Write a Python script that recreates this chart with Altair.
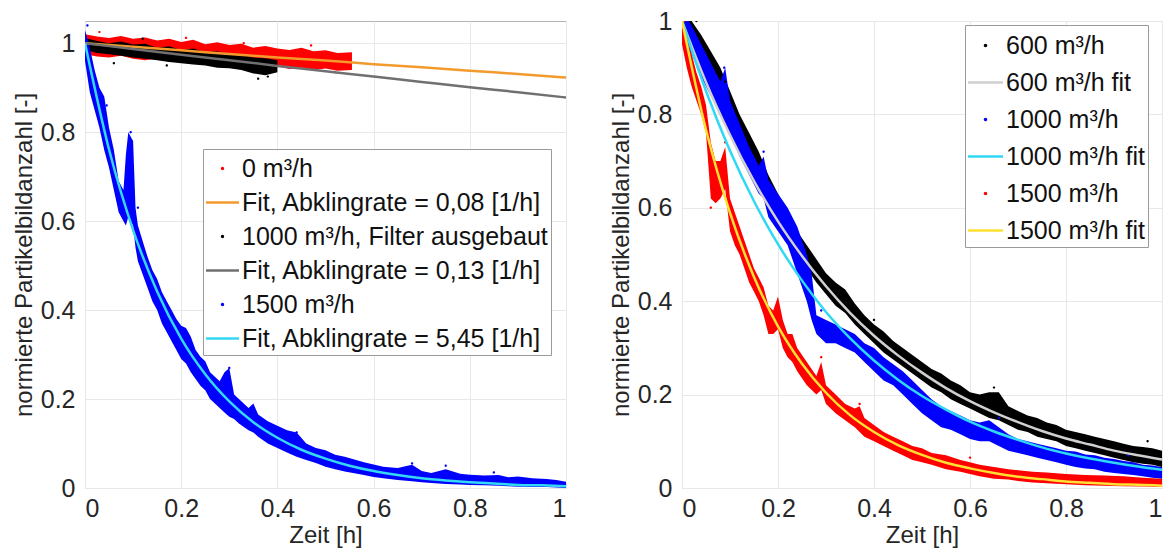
import altair as alt
import pandas as pd

FONT = "Liberation Sans"
TXT = "#262626"

# ---------------- Left panel: measured bands (lo/hi of the scatter cloud) ----------------
L_red_x = [0, 0.025, 0.05, 0.075, 0.1, 0.125, 0.15, 0.175, 0.2, 0.225, 0.25, 0.275, 0.3, 0.325,
           0.35, 0.375, 0.4, 0.425, 0.45, 0.475, 0.5, 0.525, 0.555]
L_red_hi = [1.02, 1.015, 1.012, 1.016, 1.01, 1.013, 1.006, 1.01, 1.003, 1.008, 0.998, 1.002, 0.996,
            0.999, 0.99, 0.994, 0.988, 0.985, 0.99, 0.982, 0.984, 0.978, 0.98]
L_red_lo = [0.975, 0.97, 0.968, 0.972, 0.965, 0.962, 0.966, 0.958, 0.962, 0.955, 0.958, 0.952, 0.955,
            0.948, 0.952, 0.945, 0.948, 0.942, 0.945, 0.94, 0.943, 0.938, 0.94]

L_blk_x = [0, 0.025, 0.05, 0.075, 0.1, 0.125, 0.15, 0.175, 0.2, 0.225, 0.25, 0.275, 0.3, 0.325,
           0.35, 0.375, 0.4]
L_blk_hi = [1.012, 1.005, 1.0, 1.004, 0.997, 0.999, 0.99, 0.993, 0.985, 0.988, 0.98, 0.982, 0.975,
            0.976, 0.968, 0.966, 0.962]
L_blk_lo = [0.985, 0.978, 0.975, 0.972, 0.968, 0.965, 0.962, 0.958, 0.955, 0.952, 0.95, 0.945, 0.944,
            0.94, 0.932, 0.928, 0.935]

L_blu_x = [0, 0.01, 0.02, 0.03, 0.04, 0.05, 0.06, 0.07, 0.08, 0.085, 0.09, 0.1, 0.105, 0.11, 0.12,
           0.13, 0.14, 0.15, 0.16, 0.17, 0.18, 0.19, 0.2, 0.21, 0.22, 0.23, 0.24, 0.25, 0.26, 0.27,
           0.28, 0.29, 0.3, 0.31, 0.32, 0.34, 0.35, 0.36, 0.38, 0.4, 0.42, 0.44, 0.46, 0.48, 0.5,
           0.52, 0.54, 0.56, 0.58, 0.6, 0.62, 0.65, 0.68, 0.7, 0.72, 0.75, 0.78, 0.8, 0.83, 0.86,
           0.88, 0.9, 0.93, 0.96, 0.98, 1.0]
L_blu_lo = [0.96, 0.89, 0.85, 0.81, 0.76, 0.72, 0.67, 0.62, 0.6, 0.59, 0.61, 0.59, 0.54, 0.51, 0.48,
            0.45, 0.42, 0.40, 0.37, 0.35, 0.33, 0.31, 0.29, 0.28, 0.26, 0.245, 0.23, 0.22, 0.2, 0.19,
            0.18, 0.17, 0.16, 0.155, 0.145, 0.13, 0.125, 0.115, 0.1, 0.09, 0.08, 0.07, 0.063,
            0.056, 0.048, 0.042, 0.037, 0.033, 0.029, 0.025, 0.022, 0.018, 0.015, 0.013, 0.011, 0.009,
            0.008, 0.007, 0.006, 0.005, 0.004, 0.003, 0.002, 0.002, 0.001, 0.0]
L_blu_hi = [1.03, 0.99, 0.94, 0.9, 0.88, 0.81, 0.76, 0.69, 0.67, 0.75, 0.8, 0.78, 0.63, 0.59, 0.555,
            0.52, 0.49, 0.47, 0.44, 0.42, 0.4, 0.38, 0.365, 0.36, 0.34, 0.31, 0.295, 0.285, 0.26,
            0.25, 0.24, 0.26, 0.27, 0.21, 0.2, 0.18, 0.19, 0.165, 0.15, 0.14, 0.13, 0.125, 0.1,
            0.09, 0.085, 0.075, 0.07, 0.064, 0.058, 0.053, 0.048, 0.045, 0.052, 0.038, 0.034, 0.042,
            0.032, 0.03, 0.028, 0.029, 0.024, 0.026, 0.022, 0.02, 0.018, 0.014]

# isolated dots
L_dot_series = ["0 m³/h"] * 5 + ["1000 m³/h, Filter ausgebaut"] * 5 + ["1500 m³/h"] * 9
L_dot_x = [0.03, 0.21, 0.33, 0.47, 0.52, 0.06, 0.17, 0.36, 0.38, 0.12,
           0.005, 0.095, 0.11, 0.045, 0.3, 0.44, 0.68, 0.75, 0.85]
L_dot_y = [1.025, 1.012, 1.0, 0.995, 0.935, 0.955, 0.95, 0.92, 0.925, 1.01,
           1.04, 0.8, 0.63, 0.86, 0.27, 0.125, 0.055, 0.05, 0.035]

# fits
L_fit_x10 = [0, 0.1, 0.2, 0.3, 0.4, 0.5, 0.6, 0.7, 0.8, 0.9, 1.0]
L_orange = [1.0, 0.992, 0.984, 0.976, 0.968, 0.961, 0.953, 0.946, 0.938, 0.931, 0.923]
L_gray = [1.0, 0.987, 0.974, 0.962, 0.949, 0.937, 0.925, 0.913, 0.901, 0.890, 0.878]
FIT_X20 = [0, 0.05, 0.1, 0.15, 0.2, 0.25, 0.3, 0.35, 0.4, 0.45, 0.5, 0.55, 0.6, 0.65, 0.7, 0.75,
           0.8, 0.85, 0.9, 0.95, 1.0]
L_cyan = [1.0, 0.761, 0.58, 0.442, 0.336, 0.256, 0.195, 0.148, 0.113, 0.086, 0.066, 0.05, 0.038,
          0.029, 0.022, 0.017, 0.013, 0.01, 0.007, 0.006, 0.004]

L_series = ["0 m³/h", "Fit, Abklingrate = 0,08 [1/h]", "1000 m³/h, Filter ausgebaut",
            "Fit, Abklingrate = 0,13 [1/h]", "1500 m³/h", "Fit, Abklingrate = 5,45 [1/h]"]
L_colors = ["#ff0000", "#f39a2c", "#000000", "#707070", "#0000ff", "#35d8f2"]

# ---------------- Right panel ----------------
X50 = [0, 0.02, 0.04, 0.06, 0.08, 0.1, 0.12, 0.14, 0.16, 0.18, 0.2, 0.22, 0.24, 0.26, 0.28, 0.3,
       0.32, 0.34, 0.36, 0.38, 0.4, 0.42, 0.44, 0.46, 0.48, 0.5, 0.52, 0.54, 0.56, 0.58, 0.6, 0.62,
       0.64, 0.66, 0.68, 0.7, 0.72, 0.74, 0.76, 0.78, 0.8, 0.82, 0.84, 0.86, 0.88, 0.9, 0.92, 0.94,
       0.96, 0.98, 1.0]
R_blk_lo = [0.97, 0.95, 0.92, 0.88, 0.84, 0.79, 0.75, 0.70, 0.66, 0.62, 0.57, 0.54, 0.50, 0.47,
            0.44, 0.415, 0.39, 0.375, 0.35, 0.33, 0.31, 0.29, 0.275, 0.26, 0.245, 0.23, 0.215, 0.205,
            0.19, 0.18, 0.17, 0.16, 0.15, 0.145, 0.135, 0.125, 0.12, 0.11, 0.105, 0.1, 0.09, 0.085,
            0.08, 0.075, 0.07, 0.065, 0.06, 0.055, 0.052, 0.05, 0.045]
R_blk_hi = [1.02, 1.0, 0.97, 0.935, 0.9, 0.85, 0.8, 0.76, 0.72, 0.67, 0.63, 0.59, 0.55, 0.52, 0.49,
            0.46, 0.44, 0.425, 0.395, 0.37, 0.35, 0.335, 0.315, 0.3, 0.285, 0.27, 0.255, 0.245, 0.23,
            0.22, 0.205, 0.2, 0.205, 0.205, 0.175, 0.165, 0.155, 0.15, 0.14, 0.135, 0.125, 0.12,
            0.115, 0.11, 0.105, 0.1, 0.095, 0.09, 0.088, 0.085, 0.08]

R_blu_x = [0, 0.02, 0.04, 0.06, 0.08, 0.09, 0.1, 0.12, 0.14, 0.16, 0.17, 0.18, 0.2, 0.22, 0.24,
           0.26, 0.27, 0.28, 0.3, 0.32, 0.34, 0.36, 0.38, 0.4, 0.42, 0.44, 0.46, 0.48, 0.5, 0.52,
           0.54, 0.56, 0.58, 0.6, 0.62, 0.64, 0.66, 0.68, 0.7, 0.72, 0.74, 0.76, 0.78, 0.8, 0.82,
           0.84, 0.86, 0.88, 0.9, 0.92, 0.94, 0.96, 0.98, 1.0]
R_blu_lo = [0.96, 0.93, 0.88, 0.84, 0.8, 0.78, 0.76, 0.71, 0.67, 0.63, 0.62, 0.58, 0.55, 0.52, 0.46,
            0.4, 0.36, 0.33, 0.31, 0.31, 0.3, 0.29, 0.27, 0.25, 0.23, 0.22, 0.2, 0.18, 0.16, 0.145,
            0.13, 0.125, 0.115, 0.105, 0.1, 0.1, 0.09, 0.08, 0.075, 0.07, 0.065, 0.06, 0.055, 0.05,
            0.045, 0.042, 0.04, 0.035, 0.032, 0.03, 0.028, 0.025, 0.022, 0.02]
R_blu_hi = [1.02, 0.99, 0.95, 0.91, 0.87, 0.9, 0.83, 0.78, 0.73, 0.69, 0.71, 0.66, 0.63, 0.6, 0.56,
            0.5, 0.46, 0.37, 0.36, 0.35, 0.34, 0.33, 0.31, 0.3, 0.28, 0.265, 0.25, 0.23, 0.21, 0.19,
            0.175, 0.165, 0.155, 0.145, 0.14, 0.145, 0.13, 0.115, 0.105, 0.1, 0.095, 0.09, 0.085,
            0.08, 0.078, 0.072, 0.07, 0.065, 0.062, 0.058, 0.055, 0.05, 0.048, 0.045]

R_red_x = [0, 0.01, 0.02, 0.03, 0.04, 0.05, 0.06, 0.07, 0.08, 0.09, 0.1, 0.11, 0.12, 0.13, 0.14,
           0.15, 0.16, 0.17, 0.18, 0.19, 0.2, 0.21, 0.22, 0.23, 0.24, 0.26, 0.28, 0.29, 0.3, 0.32,
           0.34, 0.36, 0.37, 0.38, 0.4, 0.42, 0.44, 0.46, 0.48, 0.5, 0.52, 0.55, 0.58, 0.6, 0.62,
           0.65, 0.68, 0.7, 0.73, 0.76, 0.8, 0.84, 0.88, 0.92, 0.96, 1.0]
R_red_lo = [0.95, 0.9, 0.86, 0.83, 0.8, 0.76, 0.62, 0.61, 0.62, 0.64, 0.55, 0.52, 0.5, 0.47, 0.44,
            0.42, 0.4, 0.37, 0.33, 0.33, 0.34, 0.3, 0.28, 0.27, 0.25, 0.22, 0.2, 0.21, 0.18, 0.16,
            0.145, 0.13, 0.12, 0.11, 0.1, 0.09, 0.08, 0.07, 0.06, 0.055, 0.05, 0.04, 0.035, 0.03,
            0.025, 0.02, 0.018, 0.015, 0.012, 0.01, 0.008, 0.006, 0.005, 0.004, 0.003, 0.002]
R_red_hi = [1.0, 0.96, 0.93, 0.89, 0.86, 0.82, 0.74, 0.7, 0.7, 0.73, 0.62, 0.59, 0.56, 0.53, 0.5,
            0.47, 0.45, 0.43, 0.39, 0.38, 0.41, 0.36, 0.33, 0.33, 0.3, 0.27, 0.24, 0.27, 0.22, 0.2,
            0.18, 0.17, 0.175, 0.15, 0.135, 0.12, 0.11, 0.1, 0.09, 0.085, 0.075, 0.07, 0.06, 0.055,
            0.05, 0.045, 0.04, 0.038, 0.035, 0.033, 0.03, 0.028, 0.027, 0.025, 0.022, 0.02]

R_dot_series = ["600 m³/h"] * 5 + ["1000 m³/h"] * 6 + ["1500 m³/h"] * 6
R_dot_x = [0.03, 0.09, 0.4, 0.65, 0.97, 0.088, 0.085, 0.17, 0.29, 0.66, 0.93,
           0.005, 0.09, 0.06, 0.29, 0.37, 0.6]
R_dot_y = [1.0, 0.87, 0.36, 0.215, 0.1, 0.9, 0.86, 0.72, 0.38, 0.15, 0.07,
           1.0, 0.74, 0.6, 0.28, 0.18, 0.065]

R_gray = [1.0, 0.869, 0.756, 0.657, 0.571, 0.497, 0.432, 0.375, 0.326, 0.284, 0.247, 0.214, 0.186,
          0.162, 0.141, 0.122, 0.106, 0.093, 0.08, 0.07, 0.061]
R_cyan = [1.0, 0.85, 0.722, 0.614, 0.522, 0.444, 0.377, 0.321, 0.273, 0.232, 0.197, 0.168, 0.142,
          0.121, 0.103, 0.087, 0.074, 0.063, 0.054, 0.046, 0.039]
R_yellow = [1.0, 0.767, 0.589, 0.452, 0.346, 0.266, 0.204, 0.156, 0.12, 0.092, 0.071, 0.054, 0.042,
            0.032, 0.024, 0.019, 0.014, 0.011, 0.008, 0.007, 0.005]

R_series = ["600 m³/h", "600 m³/h fit", "1000 m³/h", "1000 m³/h fit", "1500 m³/h", "1500 m³/h fit"]
R_colors = ["#000000", "#d0d0d0", "#0000ff", "#2fd9f5", "#ff0000", "#ffe033"]

DOT = "M-0.1,0A0.1,0.1 0 1,0 0.1,0A0.1,0.1 0 1,0 -0.1,0Z"
BAR = "M-1,-0.07H1V0.07H-1Z"
SHAPES = [DOT, BAR, DOT, BAR, DOT, BAR]

TICKS = [0, 0.2, 0.4, 0.6, 0.8, 1.0]
YTITLE = "normierte Partikelbildanzahl [-]"
H = 467


def xenc():
    return alt.X("x:Q", scale=alt.Scale(domain=[0, 1], nice=False),
                 axis=alt.Axis(values=TICKS, format=".1~f", title="Zeit [h]"))


def yenc(field, ymax):
    return alt.Y(f"{field}:Q", scale=alt.Scale(domain=[0, ymax], nice=False),
                 axis=alt.Axis(values=TICKS, format=".1~f", title=YTITLE))


def band(xs, lo, hi, color, ymax):
    df = pd.DataFrame({"x": xs, "lo": lo, "hi": hi})
    return alt.Chart(df).mark_area(color=color, opacity=1, clip=True).encode(
        x=xenc(), y=yenc("lo", ymax), y2="hi:Q")


def fit(xs, ys, color, ymax, width=2.5):
    df = pd.DataFrame({"x": xs, "y": ys})
    return alt.Chart(df).mark_line(color=color, strokeWidth=width, interpolate="monotone",
                                   clip=True).encode(x=xenc(), y=yenc("y", ymax))


def dots(series, xs, ys, domain, colors, ymax, lx, ly, row_pad, sym):
    df = pd.DataFrame({"series": series, "x": xs, "y": ys})
    leg = alt.Legend(title=None, orient="none", legendX=lx, legendY=ly, labelFontSize=25,
                     labelFont=FONT, labelColor="#111111", labelLimit=500, symbolSize=sym,
                     rowPadding=row_pad, padding=3, labelOffset=3, strokeColor="#9a9a9a",
                     fillColor="white", symbolOpacity=1, symbolStrokeWidth=0)
    return alt.Chart(df).mark_point(filled=True, size=576, opacity=1, clip=True).encode(
        x=xenc(), y=yenc("y", ymax),
        color=alt.Color("series:N", scale=alt.Scale(domain=domain, range=colors), legend=leg),
        shape=alt.Shape("series:N", scale=alt.Scale(domain=domain, range=SHAPES), legend=leg),
    )


left = alt.layer(
    band(L_red_x, L_red_lo, L_red_hi, "#ff0000", 1.05),
    band(L_blk_x, L_blk_lo, L_blk_hi, "#000000", 1.05),
    band(L_blu_x, L_blu_lo, L_blu_hi, "#0000ff", 1.05),
    dots(L_dot_series, L_dot_x, L_dot_y, L_series, L_colors, 1.05, 118, 128, 4.0, 1089),
    fit(L_fit_x10, L_orange, L_colors[1], 1.05),
    fit(L_fit_x10, L_gray, L_colors[3], 1.05),
    fit(FIT_X20, L_cyan, L_colors[5], 1.05),
).properties(width=481, height=H)

right = alt.layer(
    band(X50, R_blk_lo, R_blk_hi, "#000000", 1.0),
    band(R_blu_x, R_blu_lo, R_blu_hi, "#0000ff", 1.0),
    band(R_red_x, R_red_lo, R_red_hi, "#ff0000", 1.0),
    dots(R_dot_series, R_dot_x, R_dot_y, R_series, R_colors, 1.0, 283, 4, 6, 1225),
    fit(FIT_X20, R_gray, R_colors[1], 1.0),
    fit(FIT_X20, R_cyan, R_colors[3], 1.0),
    fit(FIT_X20, R_yellow, R_colors[5], 1.0),
).properties(width=480, height=H)

chart = alt.hconcat(left, right, spacing=41).resolve_scale(
    color="independent", shape="independent"
).resolve_legend(
    color="independent", shape="independent"
).properties(
    padding={"left": 3, "top": 0, "right": 0, "bottom": 0}
).configure_view(
    stroke="#b4b4b4", strokeWidth=1
).configure_axis(
    labelFont=FONT, titleFont=FONT, labelFontSize=25, titleFontSize=24,
    labelColor=TXT, titleColor=TXT, titleFontWeight="normal",
    grid=True, gridColor="#e8e8e8", ticks=False, domain=False,
    labelPadding=10
).configure_axisY(titlePadding=4).configure_axisX(titlePadding=2, labelPadding=8)

chart.save("out.html", embed_options={"renderer": "svg", "actions": False})
